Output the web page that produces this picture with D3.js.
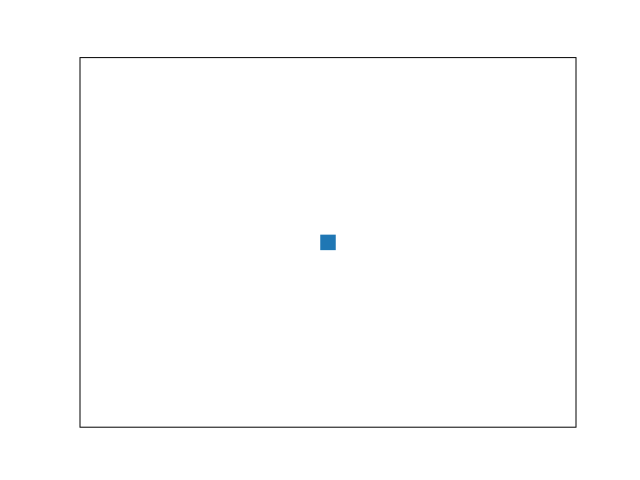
<!DOCTYPE html>
<html><head><meta charset="utf-8">
<script src="https://cdn.jsdelivr.net/npm/d3@7"></script>
<style>body{margin:0;background:#fff}</style>
</head><body>
<script>
const xValues = [0];
const yValues = [0];
const xDomain = [-1, 1];
const yDomain = [-1, 1];

const W = 640, H = 480;
const m = {left: 80, right: 64, top: 57.6, bottom: 52.8};
const svg = d3.select("body").append("svg").attr("width", W).attr("height", H);
const x = d3.scaleLinear().domain(xDomain).range([m.left, W - m.right]);
const y = d3.scaleLinear().domain(yDomain).range([H - m.bottom, m.top]);
const size = 15.5;
svg.selectAll("rect.pt").data(xValues.map((v, i) => [v, yValues[i]])).enter()
  .append("rect").attr("class", "pt")
  .attr("x", d => x(d[0]) - size / 2).attr("y", d => y(d[1]) - size / 2)
  .attr("width", size).attr("height", size)
  .attr("fill", "#1f77b4");
svg.append("rect").attr("x", m.left).attr("y", m.top)
  .attr("width", W - m.left - m.right).attr("height", H - m.top - m.bottom)
  .attr("fill", "none").attr("stroke", "#000").attr("stroke-width", 1);
</script>
</body></html>
